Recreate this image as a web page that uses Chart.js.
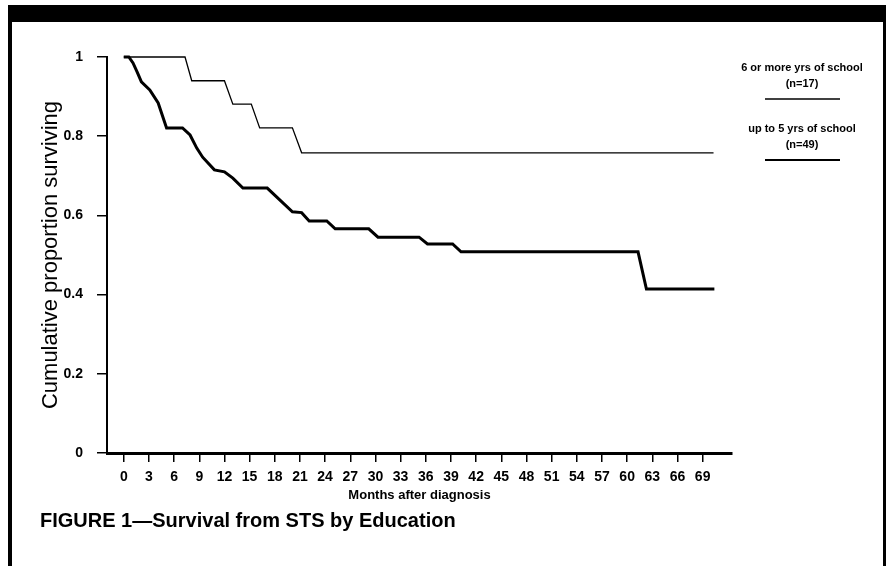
<!DOCTYPE html>
<html>
<head>
<meta charset="utf-8">
<script src="https://cdn.jsdelivr.net/npm/chart.js@4"></script>
<style>
  body { margin: 0; background: #fff; }
  #wrap { position: relative; width: 889px; height: 566px; overflow: hidden; }
  #frame {
    position: absolute; left: 8px; top: 5px; width: 871px; height: 580px;
    border-top: 17px solid #000; border-left: 4px solid #000; border-right: 3px solid #000;
  }
  #chart { position: absolute; left: 0; top: 0; }
  #caption {
    position: absolute; left: 40px; top: 509px;
    font: bold 20px "Liberation Sans", Arial, sans-serif; color: #000;
  }
</style>
</head>
<body>
<div id="wrap">
  <div id="frame"></div>
  <canvas id="chart" width="889" height="566"></canvas>
  <div id="caption">FIGURE 1—Survival from STS by Education</div>
</div>
<script>
// --- DATOS ---
const xTickValues = [0, 3, 6, 9, 12, 15, 18, 21, 24, 27, 30, 33, 36, 39, 42, 45, 48, 51, 54, 57, 60, 63, 66, 69];
const yTickValues = [0, 0.2, 0.4, 0.6, 0.8, 1];

// 6 or more yrs of school (n=17)
const monthsSixPlus = [0, 7.3, 8.1, 12.0, 13.0, 15.2, 16.2, 20.1, 21.2, 70.3];
const survivalSixPlus = [1, 1, 0.94, 0.94, 0.881, 0.881, 0.821, 0.821, 0.758, 0.758];

// up to 5 yrs of school (n=49)
const monthsUpTo5 = [0, 0.6, 1.1, 1.6, 2.1, 3.1, 4.1, 5.1, 7.0, 7.9, 8.7, 9.4, 10.8, 12.0, 13.0, 14.2, 17.1, 20.1, 21.2, 22.1, 24.2, 25.2, 29.2, 30.3, 35.2, 36.2, 39.2, 40.2, 61.3, 62.3, 70.4];
const survivalUpTo5 = [1, 1, 0.985, 0.962, 0.937, 0.917, 0.884, 0.821, 0.821, 0.803, 0.770, 0.747, 0.715, 0.710, 0.694, 0.669, 0.669, 0.609, 0.607, 0.586, 0.586, 0.566, 0.566, 0.545, 0.545, 0.528, 0.528, 0.508, 0.508, 0.414, 0.414];

const legendLabels = ['6 or more yrs of school', 'up to 5 yrs of school'];
const legendCounts = ['(n=17)', '(n=49)'];

const FONT = '"Liberation Sans", Arial, sans-serif';

function toPoints(xs, ys) {
    return xs.map((x, i) => ({ x: x, y: ys[i] }));
}

// leyenda a la derecha, dibujada a mano
const sideLegend = {
    id: 'sideLegend',
    afterDraw(chart) {
        const ctx = chart.ctx;
        const cx = 802;
        const tops = [68, 129];
        const widths = [1.6, 2];
        ctx.save();
        ctx.fillStyle = '#000';
        ctx.strokeStyle = '#000';
        ctx.textAlign = 'center';
        ctx.textBaseline = 'middle';
        ctx.font = 'bold 11px ' + FONT;
        legendLabels.forEach((lbl, i) => {
            const y = tops[i];
            ctx.fillText(lbl, cx, y);
            ctx.fillText(legendCounts[i], cx, y + 16);
            ctx.lineWidth = widths[i];
            ctx.beginPath();
            ctx.moveTo(765, y + 31);
            ctx.lineTo(840, y + 31);
            ctx.stroke();
        });
        ctx.restore();
    }
};

const ctx = document.getElementById('chart').getContext('2d');
const chart = new Chart(ctx, {
    type: 'scatter',
    data: {
        datasets: [
            {
                label: legendLabels[0],
                data: toPoints(monthsSixPlus, survivalSixPlus),
                showLine: true,
                borderColor: '#000',
                borderWidth: 1.3,
                pointRadius: 0,
                tension: 0,
                fill: false,
                clip: false
            },
            {
                label: legendLabels[1],
                data: toPoints(monthsUpTo5, survivalUpTo5),
                showLine: true,
                borderColor: '#000',
                borderWidth: 3,
                pointRadius: 0,
                tension: 0,
                fill: false,
                clip: false
            }
        ]
    },
    options: {
        responsive: false,
        devicePixelRatio: 1,
        animation: false,
        layout: { padding: { left: 38, top: 57, right: 157, bottom: 63 } },
        plugins: { legend: { display: false }, tooltip: { enabled: false } },
        scales: {
            x: {
                type: 'linear',
                min: -2,
                max: 72.5,
                afterFit: s => { s.height = 50; },
                afterBuildTicks: s => { s.ticks = xTickValues.map(v => ({ value: v })); },
                border: { display: true, color: '#000', width: 3 },
                grid: { drawOnChartArea: false, drawTicks: true, tickLength: 9, color: '#000', lineWidth: 1.5 },
                ticks: {
                    color: '#000',
                    padding: 7,
                    maxRotation: 0,
                    autoSkip: false,
                    font: { family: FONT, size: 14, weight: 'bold' },
                    callback: v => String(v)
                },
                title: {
                    display: true,
                    text: 'Months after diagnosis',
                    color: '#000',
                    padding: 0,
                    font: { family: FONT, size: 13, weight: 'bold' }
                }
            },
            y: {
                min: 0,
                max: 1,
                afterFit: s => { s.width = 69; },
                afterBuildTicks: s => { s.ticks = yTickValues.map(v => ({ value: v })); },
                border: { display: true, color: '#000', width: 2 },
                grid: { drawOnChartArea: false, drawTicks: true, tickLength: 10, color: '#000', lineWidth: 1.5 },
                ticks: {
                    color: '#000',
                    padding: 14,
                    font: { family: FONT, size: 14, weight: 'bold' },
                    callback: v => String(v)
                },
                title: {
                    display: true,
                    text: 'Cumulative proportion surviving',
                    color: '#000',
                    padding: 0,
                    font: { family: FONT, size: 22 }
                }
            }
        }
    },
    plugins: [sideLegend]
});
</script>
</body>
</html>
